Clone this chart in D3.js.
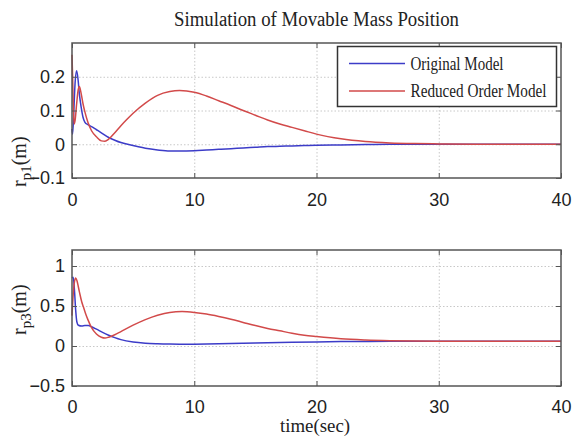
<!DOCTYPE html>
<html>
<head>
<meta charset="utf-8">
<script src="https://cdn.jsdelivr.net/npm/d3@7"></script>
<style>
  html, body { margin: 0; padding: 0; background: #fff; }
  svg { display: block; }
  .grid line { stroke: #c8c8c8; stroke-dasharray: 1.5 2; stroke-width: 1; }
  .grid path { display: none; }
  .ax path { display: none; }
  .ax line { stroke: #555; stroke-width: 1; }
  .ax text { font-family: "Liberation Sans", Arial, sans-serif; font-size: 18px; fill: #222; }
</style>
</head>
<body>
<svg id="chart" width="579" height="443"></svg>
<script>
// ---------- data ----------
const title = "Simulation of Movable Mass Position";
const xLabel = "time(sec)";
const seriesNames = ["Original Model", "Reduced Order Model"];
const xTicks = [0, 10, 20, 30, 40];
const y1Ticks = [-0.1, 0, 0.1, 0.2];
const y2Ticks = [-0.5, 0, 0.5, 1];

// Top panel: r_p1
const t1Orig = [0, 0.05, 0.15, 0.25, 0.38, 0.5, 0.6, 0.75, 0.9, 1.06, 1.3, 1.6, 2, 2.4, 3, 3.5, 4, 5, 6, 7, 8, 8.8, 10, 11, 12, 13, 14, 15, 16, 17, 18, 19, 20, 22, 24, 26, 30, 35, 40];
const r1Orig = [0.045, 0.03, 0.1, 0.18, 0.218, 0.19, 0.15, 0.11, 0.08, 0.065, 0.058, 0.052, 0.043, 0.034, 0.02, 0.012, 0.005, -0.004, -0.012, -0.017, -0.02, -0.02, -0.019, -0.017, -0.015, -0.013, -0.011, -0.009, -0.007, -0.006, -0.005, -0.004, -0.003, -0.002, -0.001, 0, 0, 0, 0];
const t1Red = [0, 0.05, 0.1, 0.17, 0.25, 0.38, 0.5, 0.6, 0.75, 0.9, 1.06, 1.3, 1.6, 2, 2.4, 2.7, 3, 3.5, 4, 4.5, 5, 6, 7, 8, 8.8, 10, 11, 12, 13, 14, 15, 16, 17, 18, 19, 20, 22, 24, 26, 28, 30, 33, 40];
const r1Red = [0.265, 0.2, 0.12, 0.06, 0.07, 0.12, 0.16, 0.171, 0.15, 0.12, 0.095, 0.065, 0.04, 0.022, 0.01, 0.009, 0.015, 0.034, 0.055, 0.074, 0.092, 0.122, 0.145, 0.156, 0.159, 0.154, 0.143, 0.129, 0.115, 0.1, 0.086, 0.072, 0.06, 0.05, 0.04, 0.03, 0.016, 0.008, 0.004, 0.002, 0.001, 0, 0];

// Bottom panel: r_p3
const t2Orig = [0, 0.1, 0.2, 0.3, 0.4, 0.52, 0.8, 1.06, 1.34, 1.6, 2, 2.5, 3, 3.5, 4, 5, 6, 7, 8, 9, 10, 12, 14, 16, 18, 20, 22, 24, 26, 30, 40];
const r2Orig = [0.85, 0.86, 0.7, 0.45, 0.3, 0.26, 0.25, 0.255, 0.255, 0.24, 0.21, 0.17, 0.135, 0.105, 0.08, 0.05, 0.035, 0.028, 0.024, 0.022, 0.023, 0.027, 0.033, 0.04, 0.046, 0.051, 0.055, 0.057, 0.058, 0.058, 0.058];
const t2Red = [0, 0.1, 0.2, 0.3, 0.4, 0.6, 0.8, 0.93, 1.1, 1.3, 1.6, 2, 2.4, 2.7, 3, 3.5, 4, 5, 6, 7, 8, 9, 10, 11, 12, 13, 14, 15, 16, 17, 18, 19, 20, 22, 24, 26, 28, 30, 35, 40];
const r2Red = [0.38, 0.65, 0.8, 0.85, 0.82, 0.68, 0.55, 0.49, 0.41, 0.33, 0.23, 0.15, 0.11, 0.1, 0.11, 0.14, 0.18, 0.26, 0.33, 0.385, 0.42, 0.43, 0.42, 0.4, 0.37, 0.335, 0.295, 0.255, 0.22, 0.19, 0.16, 0.135, 0.118, 0.09, 0.075, 0.066, 0.061, 0.059, 0.058, 0.058];

const colors = ["#3c3cc8", "#d24a4a"];

// ---------- drawing ----------
const svg = d3.select("#chart");
const left = 72, right = 561;

svg.append("text")
  .attr("x", (left + right) / 2).attr("y", 26)
  .attr("text-anchor", "middle")
  .attr("textLength", 285).attr("lengthAdjust", "spacingAndGlyphs")
  .style("font-family", "'Liberation Serif', 'Times New Roman', serif")
  .style("font-size", "20px").style("fill", "#222")
  .text(title);

function panel(top, bottom, yDomain, yTicks, data, labelSub, labelBottom, tickPad) {
  const x = d3.scaleLinear().domain([0, 40]).range([left, right]);
  const y = d3.scaleLinear().domain(yDomain).range([bottom, top]);
  const w = right - left, h = bottom - top;
  const g = svg.append("g");

  // grid
  g.append("g").attr("class", "grid").attr("transform", `translate(0,${bottom})`)
    .call(d3.axisBottom(x).tickValues(xTicks.slice(1, -1)).tickSize(-h).tickFormat(""));
  g.append("g").attr("class", "grid").attr("transform", `translate(${left},0)`)
    .call(d3.axisLeft(y).tickValues(yTicks.filter(v => v > yDomain[0])).tickSize(-w).tickFormat(""));

  // lines
  const line = d3.line().x(d => x(d[0])).y(d => y(d[1])).curve(d3.curveMonotoneX);
  data.forEach((s, i) => {
    g.append("path")
      .datum(s.t.map((t, k) => [t, s.v[k]]))
      .attr("fill", "none").attr("stroke", colors[i]).attr("stroke-width", 1.5)
      .attr("d", line);
  });

  // axes (ticks inward)
  g.append("g").attr("class", "ax").attr("transform", `translate(0,${bottom})`)
    .call(d3.axisBottom(x).tickValues(xTicks).tickSize(-5).tickPadding(tickPad).tickFormat(d3.format("d")));
  g.append("g").attr("class", "ax").attr("transform", `translate(0,${top})`)
    .call(d3.axisTop(x).tickValues(xTicks).tickSize(-5).tickFormat(""));
  g.append("g").attr("class", "ax").attr("transform", `translate(${left},0)`)
    .call(d3.axisLeft(y).tickValues(yTicks).tickSize(-5).tickPadding(7).tickFormat(d => d3.format("")(d)));
  g.append("g").attr("class", "ax").attr("transform", `translate(${right},0)`)
    .call(d3.axisRight(y).tickValues(yTicks).tickSize(-5).tickFormat(""));

  // box
  g.append("rect").attr("x", left).attr("y", top).attr("width", w).attr("height", h)
    .attr("fill", "none").attr("stroke", "#555").attr("stroke-width", 1.5);

  // y label
  const lab = g.append("text")
    .attr("transform", `translate(26,${labelBottom}) rotate(-90)`)
    .style("font-family", "'Liberation Serif', 'Times New Roman', serif")
    .style("font-size", "20px").style("fill", "#222");
  lab.append("tspan").text("r");
  lab.append("tspan").attr("dy", 5).style("font-size", "15px").text(labelSub);
  lab.append("tspan").attr("dy", -5).text("(m)");
  return { x, y };
}

panel(43, 178, [-0.1, 0.3], y1Ticks,
  [{ t: t1Orig, v: r1Orig }, { t: t1Red, v: r1Red }], "p1", 187, 15);
panel(250, 386, [-0.5, 1.2], y2Ticks,
  [{ t: t2Orig, v: r2Orig }, { t: t2Red, v: r2Red }], "p3", 335, 14);

// x label
svg.append("text")
  .attr("x", 315).attr("y", 432).attr("text-anchor", "middle")
  .attr("textLength", 70).attr("lengthAdjust", "spacingAndGlyphs")
  .style("font-family", "'Liberation Serif', 'Times New Roman', serif")
  .style("font-size", "19px").style("fill", "#222")
  .text(xLabel);

// legend
const lg = svg.append("g");
lg.append("rect").attr("x", 337.5).attr("y", 46.5).attr("width", 219).attr("height", 60)
  .attr("fill", "#fff").attr("stroke", "#333").attr("stroke-width", 1.5);
const legY = [63.5, 91];
const legLen = [93, 136];
seriesNames.forEach((n, i) => {
  lg.append("line").attr("x1", 349).attr("x2", 405).attr("y1", legY[i]).attr("y2", legY[i])
    .attr("stroke", colors[i]).attr("stroke-width", 1.5);
  lg.append("text").attr("x", 410.5).attr("y", legY[i] + 6)
    .attr("textLength", legLen[i]).attr("lengthAdjust", "spacingAndGlyphs")
    .style("font-family", "'Liberation Serif', 'Times New Roman', serif")
    .style("font-size", "18px").style("fill", "#222")
    .text(n);
});
</script>
</body>
</html>
